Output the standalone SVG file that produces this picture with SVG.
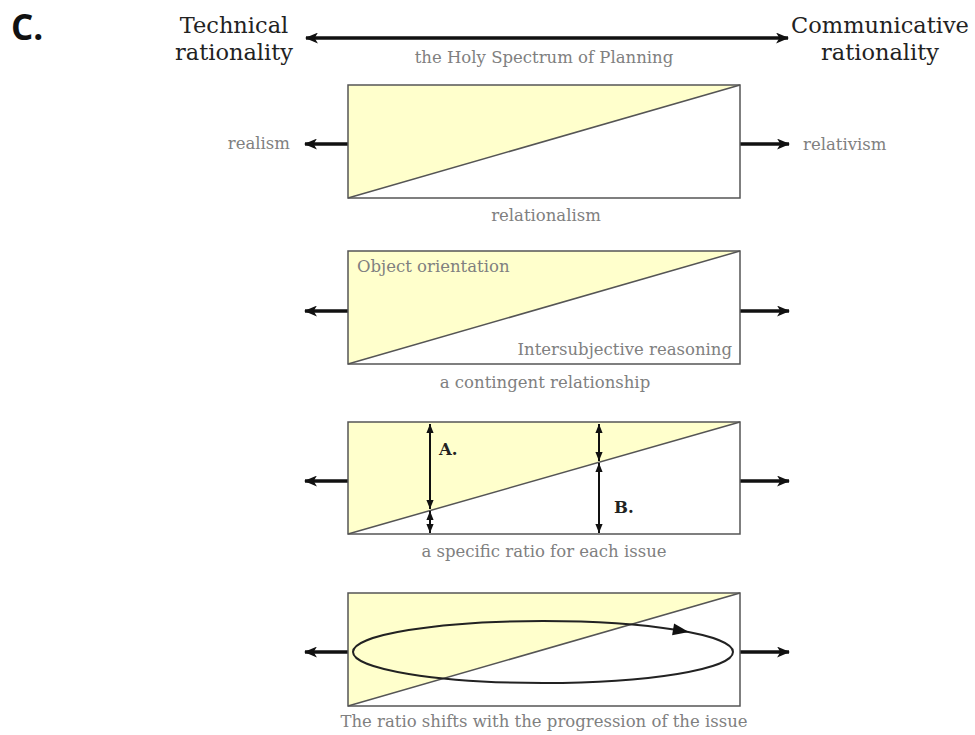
<svg xmlns="http://www.w3.org/2000/svg" width="975" height="735" viewBox="0 0 975 735">
<style>
.hd{font-family:"DejaVu Serif","Liberation Serif",serif;font-size:22.5px;fill:#222;text-anchor:middle}
.cap{font-family:"DejaVu Serif","Liberation Serif",serif;font-size:16.5px;fill:#808080;text-anchor:middle}
.lbl{font-family:"DejaVu Serif","Liberation Serif",serif;font-size:16.5px;fill:#808080}
.ab{font-family:"DejaVu Serif","Liberation Serif",serif;font-size:16.5px;font-weight:bold;fill:#222}
.box{fill:none;stroke:#555;stroke-width:1.5}
.tri{fill:#FFFFCC;stroke:none}
.diag{stroke:#555;stroke-width:1.5}
.thick{stroke:#111;stroke-width:3.5;fill:none}
.thin{stroke:#111;stroke-width:2;fill:none}
</style>
<defs>
<marker id="ah" viewBox="0 0 12 10" refX="11" refY="5" markerWidth="13" markerHeight="11" markerUnits="userSpaceOnUse" orient="auto-start-reverse">
<path d="M0,0 L12,5 L0,10 L3,5 z" fill="#111"/>
</marker>
<marker id="ahs" viewBox="0 0 10 8" refX="10" refY="4" markerWidth="9" markerHeight="8" markerUnits="userSpaceOnUse" orient="auto-start-reverse">
<path d="M0,0 L10,4 L0,8 z" fill="#111"/>
</marker>
</defs>

<text x="11" y="40" font-family="'Open Sans','Liberation Sans',sans-serif" font-weight="bold" font-size="35" fill="#111">C.</text>

<g id="header">
<text class="hd" x="234" y="33">Technical</text>
<text class="hd" x="234" y="60">rationality</text>
<text class="hd" x="880" y="33">Communicative</text>
<text class="hd" x="880" y="60">rationality</text>
<text class="cap" x="544" y="63">the Holy Spectrum of Planning</text>
</g>

<g id="connectors">
<line class="thick" x1="306" y1="38" x2="788" y2="38" marker-start="url(#ah)" marker-end="url(#ah)"/>
<line class="thick" x1="348" y1="144" x2="305" y2="144" marker-end="url(#ah)"/>
<line class="thick" x1="740" y1="144" x2="789" y2="144" marker-end="url(#ah)"/>
<line class="thick" x1="348" y1="311" x2="305" y2="311" marker-end="url(#ah)"/>
<line class="thick" x1="740" y1="311" x2="789" y2="311" marker-end="url(#ah)"/>
<line class="thick" x1="348" y1="481" x2="305" y2="481" marker-end="url(#ah)"/>
<line class="thick" x1="740" y1="481" x2="789" y2="481" marker-end="url(#ah)"/>
<line class="thick" x1="348" y1="652" x2="305" y2="652" marker-end="url(#ah)"/>
<line class="thick" x1="740" y1="652" x2="789" y2="652" marker-end="url(#ah)"/>
</g>

<g id="box1">
<polygon class="tri" points="348,198 348,85 740,85"/>
<line class="diag" x1="348" y1="198" x2="740" y2="85"/>
<rect class="box" x="348" y="85" width="392" height="113"/>
<text class="lbl" x="290" y="149" text-anchor="end">realism</text>
<text class="lbl" x="803" y="150">relativism</text>
<text class="cap" x="546" y="221">relationalism</text>
</g>

<g id="box2">
<polygon class="tri" points="348,364 348,251 740,251"/>
<line class="diag" x1="348" y1="364" x2="740" y2="251"/>
<rect class="box" x="348" y="251" width="392" height="113"/>
<text class="lbl" x="357" y="272">Object orientation</text>
<text class="lbl" x="732" y="355" text-anchor="end">Intersubjective reasoning</text>
<text class="cap" x="545" y="388">a contingent relationship</text>
</g>

<g id="box3">
<polygon class="tri" points="348,534 348,422 740,422"/>
<line class="diag" x1="348" y1="534" x2="740" y2="422"/>
<rect class="box" x="348" y="422" width="392" height="112"/>
<line class="thin" x1="430" y1="424" x2="430" y2="509" marker-start="url(#ahs)" marker-end="url(#ahs)"/>
<line class="thin" x1="430" y1="511" x2="430" y2="533" marker-start="url(#ahs)" marker-end="url(#ahs)"/>
<line class="thin" x1="599" y1="424" x2="599" y2="461" marker-start="url(#ahs)" marker-end="url(#ahs)"/>
<line class="thin" x1="599" y1="463" x2="599" y2="533" marker-start="url(#ahs)" marker-end="url(#ahs)"/>
<text class="ab" x="439" y="455">A.</text>
<text class="ab" x="614" y="513">B.</text>
<text class="cap" x="544" y="557">a specific ratio for each issue</text>
</g>

<g id="box4">
<polygon class="tri" points="348,706 348,593 740,593"/>
<line class="diag" x1="348" y1="706" x2="740" y2="593"/>
<rect class="box" x="348" y="593" width="392" height="113"/>
<ellipse cx="543" cy="652" rx="190" ry="31" fill="none" stroke="#222" stroke-width="2"/>
<polygon points="9,0 -7,-6 -7,6" fill="#111" transform="translate(680,630.5) rotate(9.6)"/>
<text class="cap" x="544" y="727">The ratio shifts with the progression of the issue</text>
</g>
</svg>
